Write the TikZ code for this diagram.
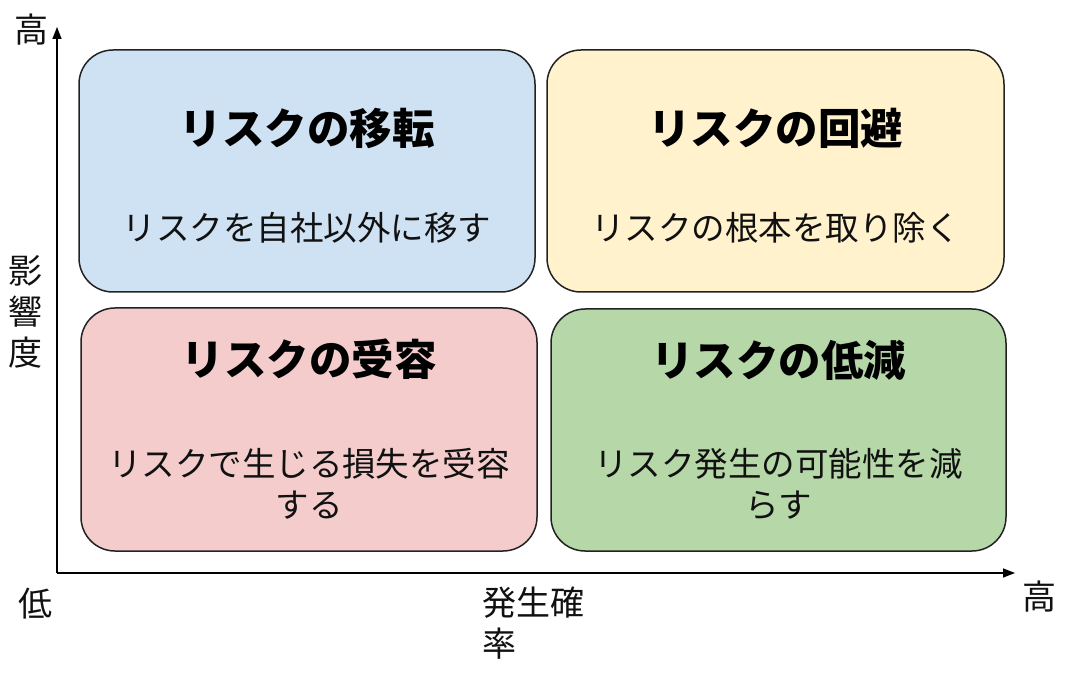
\documentclass[tikz,border=0pt]{standalone}
\usepackage{fontspec}
\setmainfont{Noto Sans CJK JP}
\usetikzlibrary{arrows.meta}
\definecolor{qblue}{HTML}{CFE2F3}
\definecolor{qyellow}{HTML}{FFF2CC}
\definecolor{qred}{HTML}{F4CCCC}
\definecolor{qgreen}{HTML}{B6D7A8}
\definecolor{qline}{HTML}{222222}
\definecolor{qtext}{HTML}{111111}
\begin{document}
\begin{tikzpicture}[x=1pt,y=-1pt,
  quad/.style={draw=qline,line width=1.5pt,rounded corners=34pt,inner sep=0pt},
  qtitle/.style={font=\fontsize{42.5}{48}\selectfont\bfseries,text=black,inner sep=0pt},
  qsub/.style={font=\fontsize{33.5}{41}\selectfont,text=qtext,align=center,inner sep=0pt},
  axlabel/.style={font=\fontsize{34}{41}\selectfont,text=qtext,inner sep=0pt},
  axis/.style={draw=black,line width=1.5pt,-{Triangle[length=12pt,width=9pt]}}]
\useasboundingbox (0,0) rectangle (1069,676);
% boxes
\node[quad,fill=qblue,minimum width=456pt,minimum height=242pt] (b1) at (307,171) {};
\node[quad,fill=qyellow,minimum width=457pt,minimum height=242pt] (b2) at (775.5,171) {};
\node[quad,fill=qred,minimum width=456pt,minimum height=243pt] (b3) at (309,429.5) {};
\node[quad,fill=qgreen,minimum width=455pt,minimum height=242pt] (b4) at (778.5,430) {};
% titles
\node[qtitle] (t1) at (307,128) {リスクの移転};
\node[qtitle] (t2) at (775.5,128) {リスクの回避};
\node[qtitle] (t3) at (309,359) {リスクの受容};
\node[qtitle] (t4) at (778.5,360) {リスクの低減};
% subtitles
\node[qsub] (s1) at (307,228) {リスクを自社以外に移す};
\node[qsub] (s2) at (775.5,228) {リスクの根本を取り除く};
\node[qsub,anchor=north] (s3) at (309,448) {リスクで生じる損失を受容\\する};
\node[qsub,anchor=north] (s4) at (778.5,448) {リスク発生の可能性を減\\らす};
% axes
\coordinate (o) at (57,573);
\coordinate (ytip) at (57,27);
\coordinate (xtip) at (1015,573);
\draw[axis] (o) -- (ytip);
\draw[axis] (o) -- (xtip);
% axis labels
\node[axlabel] (hiy) at (32,30) {高};
\node[axlabel] (lo) at (35,604) {低};
\node[axlabel] (hix) at (1039,597) {高};
\node[axlabel,align=left,anchor=north west] (px) at (482,587) {発生確\\率};
\node[axlabel,align=center,anchor=north] (py) at (26,255) {影\\響\\度};
\end{tikzpicture}
\end{document}
